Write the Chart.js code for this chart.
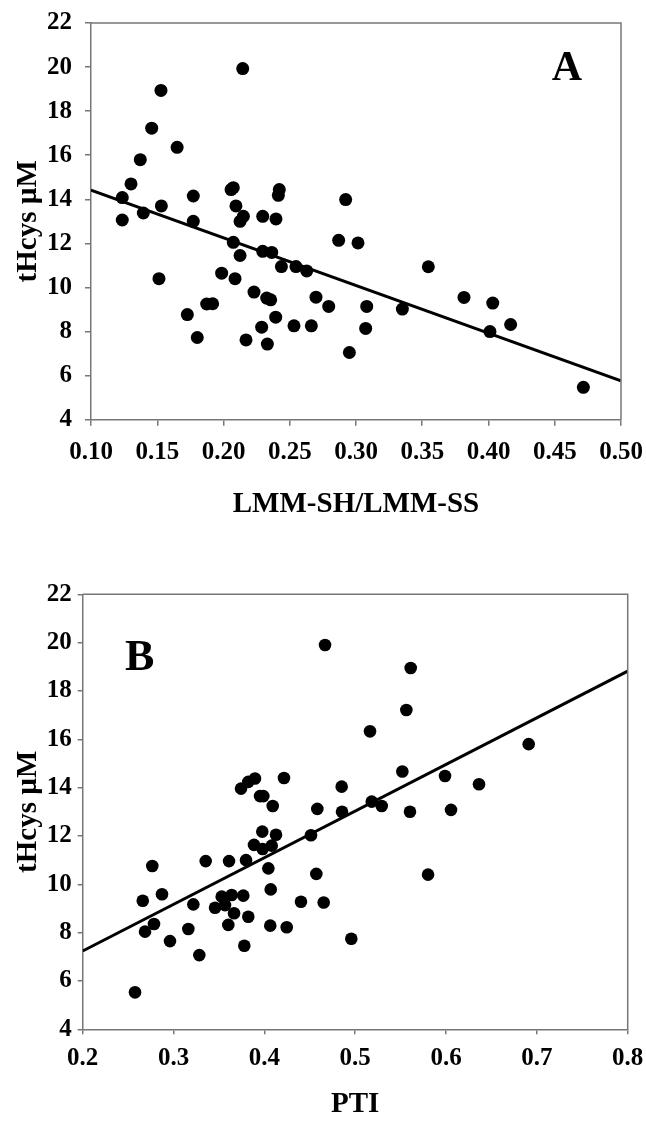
<!DOCTYPE html>
<html>
<head>
<meta charset="utf-8">
<script src="https://cdn.jsdelivr.net/npm/chart.js@4.4.1/dist/chart.umd.min.js"></script>
<style>
  html, body { margin: 0; padding: 0; background: #fff; }
  body { width: 646px; height: 1124px; overflow: hidden; position: relative; }
  canvas { position: absolute; left: 0; }
</style>
</head>
<body>
<canvas id="chartA" width="646" height="560" style="top:0;width:646px;height:560px"></canvas>
<canvas id="chartB" width="646" height="564" style="top:560px;width:646px;height:564px"></canvas>
<script>
// ---------- Panel A data ----------
const xA = [0.2145,0.1528,0.1458,0.165,0.1372,0.1302,0.1236,0.1236,0.1395,0.1531,0.1772,0.1772,0.2057,0.2074,0.2094,0.215,0.2125,0.2296,0.2396,0.2421,0.2414,0.2922,
  0.2074,0.2125,0.2296,0.2364,0.2437,0.2547,0.2628,0.2869,0.3015,0.1513,0.1986,0.2087,0.223,0.2326,0.2356,0.1873,0.1918,0.2698,0.2794,0.1727,0.2394,0.2288,0.2532,0.2663,0.1802,0.217,0.2331,0.295,
  0.3546,0.3081,0.335,0.3815,0.4032,0.4167,0.4011,0.3073,0.4716];
const yA = [19.93,18.94,17.23,16.36,15.80,14.70,14.08,13.06,13.38,13.70,14.15,13.0,14.44,14.53,13.70,13.23,13.0,13.23,13.11,14.44,14.18,13.99,
  12.05,11.45,11.64,11.59,10.95,10.95,10.75,12.14,12.02,10.40,10.65,10.40,9.79,9.52,9.44,9.25,9.26,9.56,9.14,8.77,8.65,8.20,8.26,8.26,7.73,7.62,7.43,7.05,
  10.94,9.14,9.02,9.55,9.29,8.32,8.0,8.14,5.47];
const fitAX = [0.10, 0.50];
const fitAY = [14.42, 5.76];
const xTicksA = [0.10,0.15,0.20,0.25,0.30,0.35,0.40,0.45,0.50];
const xTickLabelsA = ['0.10','0.15','0.20','0.25','0.30','0.35','0.40','0.45','0.50'];

// ---------- Panel B data ----------
const xB = [0.4668,0.3743,0.3823,0.3897,0.4216,0.4851,0.3952,0.3989,0.4092,
  0.5611,0.5563,0.5163,0.691,0.5519,0.5989,0.6363,0.5182,0.5292,0.4583,0.4855,0.5603,0.6055,
  0.4513,0.4572,0.5802,0.4403,0.4653,0.4957,
  0.3977,0.4128,0.3886,0.3981,0.4081,0.4044,0.3354,0.3611,0.3798,0.2766,0.407,
  0.2661,0.2873,0.3218,0.353,0.364,0.3768,0.3567,0.3457,0.3666,0.3823,0.2785,0.2686,0.3163,0.3603,0.4065,0.4246,0.2961,0.3779,0.3284,0.2576];
const yB = [19.90,13.96,14.24,14.38,14.40,14.04,13.65,13.65,13.24,
  18.95,17.21,16.33,15.80,14.67,14.48,14.14,13.42,13.24,13.12,13.0,13.0,13.08,
  12.03,10.43,10.40,9.28,9.25,7.75,
  12.18,12.05,11.63,11.46,11.60,10.66,10.96,10.96,11.0,10.76,9.79,
  9.32,9.59,9.17,9.49,9.56,9.53,9.14,9.03,8.80,8.66,8.36,8.04,8.15,8.32,8.29,8.22,7.65,7.46,7.07,5.53];
const fitBX = [0.2, 0.8];
const fitBY = [7.24, 18.82];
const xTicksB = [0.2,0.3,0.4,0.5,0.6,0.7,0.8];
const xTickLabelsB = ['0.2','0.3','0.4','0.5','0.6','0.7','0.8'];

// ---------- shared y axis ----------
const yTicks = [4,6,8,10,12,14,16,18,20,22];
const yTickLabels = ['4','6','8','10','12','14','16','18','20','22'];
const yTitle = 'tHcys \u00B5M';
const xTitleA = 'LMM-SH/LMM-SS';
const xTitleB = 'PTI';

const SERIF = "'Liberation Serif', 'Times New Roman', 'DejaVu Serif', serif";
const AXIS_COLOR = '#777';

const framePlugin = {
  id: 'frame',
  afterDraw(chart, args, o) {
    const { ctx, chartArea: a } = chart;
    ctx.save();
    ctx.strokeStyle = AXIS_COLOR;
    ctx.lineWidth = 1.5;
    ctx.beginPath();
    ctx.moveTo(a.left, a.top);
    ctx.lineTo(a.right, a.top);
    ctx.lineTo(a.right, a.bottom);
    ctx.stroke();
    ctx.fillStyle = '#000';
    ctx.font = 'bold ' + o.size + 'px ' + SERIF;
    ctx.textAlign = 'center';
    ctx.textBaseline = 'middle';
    const x = o.fromRight ? a.right - o.dx : a.left + o.dx;
    ctx.fillText(o.letter, x, a.top + o.dy);
    ctx.restore();
  }
};

function pts(xs, ys) { return xs.map((x, i) => ({ x: x, y: ys[i] })); }

function makeChart(id, cfg) {
  return new Chart(document.getElementById(id), {
    type: 'scatter',
    data: {
      datasets: [
        { data: pts(cfg.xs, cfg.ys), pointRadius: cfg.r, pointHoverRadius: cfg.r,
          backgroundColor: '#000', borderWidth: 0, pointBorderWidth: 0 },
        { data: pts(cfg.fx, cfg.fy), showLine: true, pointRadius: 0, borderColor: '#000',
          borderWidth: 3, fill: false }
      ]
    },
    options: {
      responsive: false,
      animation: false,
      events: [],
      layout: { padding: cfg.pad },
      plugins: {
        legend: { display: false }, tooltip: { enabled: false },
        frame: cfg.letter
      },
      scales: {
        x: {
          type: 'linear', min: cfg.xmin, max: cfg.xmax,
          afterBuildTicks: s => { s.ticks = cfg.xt.map(v => ({ value: v })); },
          afterFit: s => { s.height = cfg.xh; s.paddingLeft = 0; s.paddingRight = 0; },
          ticks: { callback: (v, i) => cfg.xl[i], color: '#000', padding: cfg.xpad,
                   maxRotation: 0, autoSkip: false, font: { family: SERIF, size: 25, weight: 'bold' } },
          grid: { display: true, drawOnChartArea: false, drawTicks: true, tickLength: cfg.tl, color: AXIS_COLOR, lineWidth: 1.5 },
          border: { display: true, color: AXIS_COLOR, width: 1.5 },
          title: { display: true, text: cfg.xtitle, color: '#000',
                   font: { family: SERIF, size: 29, weight: 'bold' }, padding: { top: 0, bottom: cfg.xtpad } }
        },
        y: {
          type: 'linear', min: 4, max: 22,
          afterBuildTicks: s => { s.ticks = yTicks.map(v => ({ value: v })); },
          afterFit: s => { s.width = cfg.yw; s.paddingTop = 0; s.paddingBottom = 0; },
          ticks: { callback: (v, i) => yTickLabels[i], color: '#000', padding: cfg.ypad,
                   autoSkip: false, font: { family: SERIF, size: 25, weight: 'bold' } },
          grid: { display: true, drawOnChartArea: false, drawTicks: true, tickLength: cfg.tl, color: AXIS_COLOR, lineWidth: 1.5 },
          border: { display: true, color: AXIS_COLOR, width: 1.5 },
          title: { display: true, text: yTitle, color: '#000',
                   font: { family: SERIF, size: 29, weight: 'bold' }, padding: { top: cfg.ytpad, bottom: 0 } }
        }
      }
    },
    plugins: [framePlugin]
  });
}

makeChart('chartA', {
  xs: xA, ys: yA, fx: fitAX, fy: fitAY, r: 6.5,
  xmin: 0.10, xmax: 0.50, xt: xTicksA, xl: xTickLabelsA,
  pad: { left: 0, right: 25, top: 23, bottom: 0 },
  xh: 140.3, yw: 91, tl: 6, xpad: 12, ypad: 13, xtpad: 38, ytpad: 11,
  xtitle: xTitleA,
  letter: { letter: 'A', size: 42, fromRight: true, dx: 54, dy: 46 }
});

makeChart('chartB', {
  xs: xB, ys: yB, fx: fitBX, fy: fitBY, r: 6.3,
  xmin: 0.2, xmax: 0.8, xt: xTicksB, xl: xTickLabelsB,
  pad: { left: 0, right: 18.3, top: 34.3, bottom: 0 },
  xh: 94.7, yw: 82.7, tl: 5, xpad: 9, ypad: 6, xtpad: 2, ytpad: 11,
  xtitle: xTitleB,
  letter: { letter: 'B', size: 44, fromRight: false, dx: 57, dy: 64 }
});
</script>
</body>
</html>
